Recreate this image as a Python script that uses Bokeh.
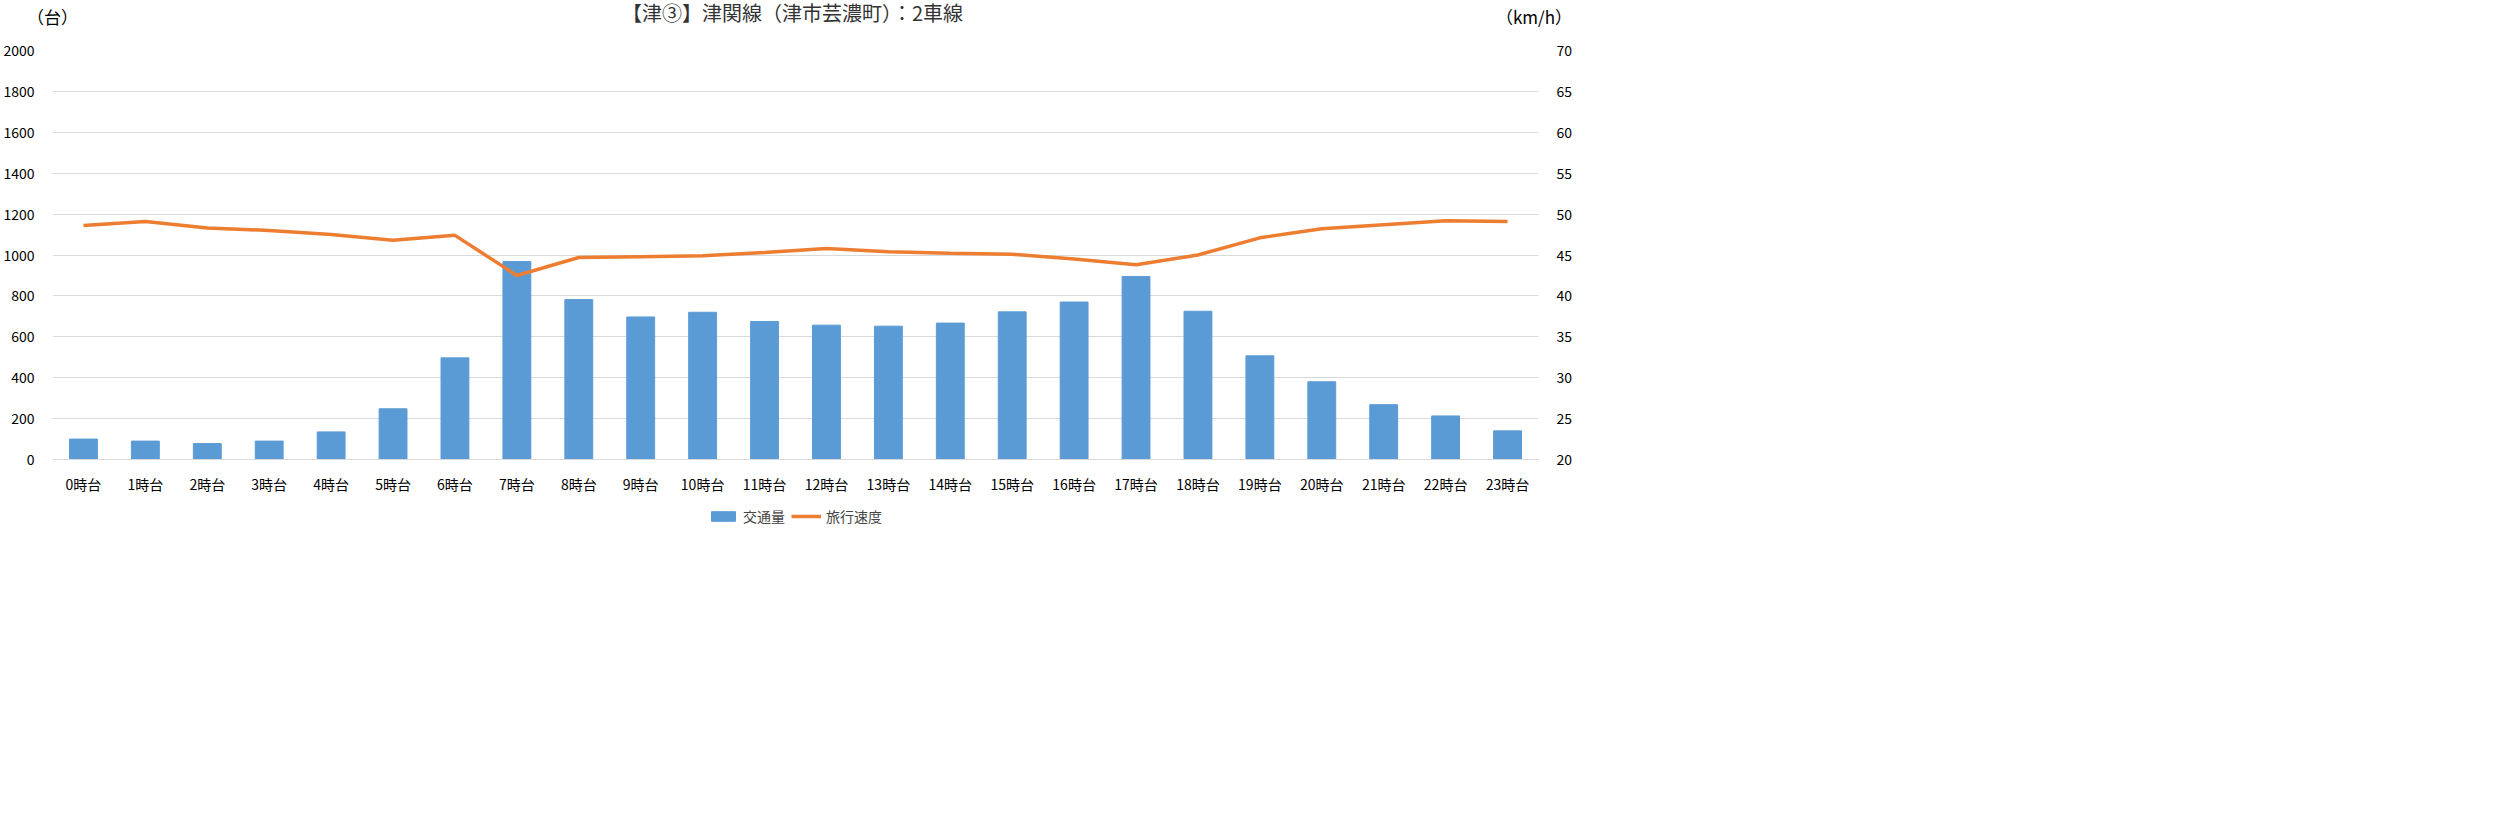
from bokeh.plotting import figure
from bokeh.models import Range1d, LinearAxis, Legend, LegendItem, FixedTicker, Div
from bokeh.layouts import column
from bokeh.embed import file_html
from bokeh.resources import INLINE

hours = [f"{h}時台" for h in range(24)]
traffic = [100, 90, 78, 90, 135, 248, 497, 968, 782, 697, 720, 675,
           657, 652, 667, 722, 770, 895, 725, 507, 380, 268, 213, 140]
speed = [48.6, 49.1, 48.3, 48.0, 47.5, 46.8, 47.4, 42.5, 44.7, 44.8, 44.9, 45.3,
         45.8, 45.4, 45.2, 45.1, 44.5, 43.8, 45.0, 47.1, 48.2, 48.7, 49.2, 49.1]

FONT = "Noto Sans CJK JP"
W = 1575

header = Div(width=W, height=26, text=(
    f'<div style="position:relative;width:{W}px;height:26px;font-family:\'{FONT}\';">'
    '<span style="position:absolute;left:22px;top:0px;font-size:17px;">（台）</span>'
    '<span style="position:absolute;left:0;right:0;top:-6px;text-align:center;font-size:20px;color:#333;">'
    '【津③】津関線（津市芸濃町）：2車線</span>'
    '<span style="position:absolute;right:8px;top:0px;font-size:17px;">（km/h）</span>'
    '</div>'))

p = figure(x_range=hours, y_range=Range1d(0, 2000), width=W, height=460,
           output_backend="svg", toolbar_location=None,
           min_border_left=20, min_border_right=15, min_border_top=14, min_border_bottom=5)
p.extra_y_ranges = {"speed": Range1d(20, 70)}

bars = p.vbar(x=hours, top=traffic, width=0.45, color="#5b9bd5")
line = p.line(x=hours, y=speed, y_range_name="speed", color="#ed7d31", line_width=3.5)

right = LinearAxis(y_range_name="speed", ticker=FixedTicker(ticks=list(range(20, 71, 5))))
p.add_layout(right, "right")
p.yaxis[0].ticker = FixedTicker(ticks=list(range(0, 2001, 200)))

for ax in p.yaxis + p.xaxis:
    ax.axis_line_color = None
    ax.major_tick_line_color = None
    ax.minor_tick_line_color = None
    ax.major_label_text_font = FONT
    ax.major_label_text_font_size = "14px"
    ax.major_label_text_color = "#000000"
    ax.major_label_standoff = 12
p.xaxis.axis_line_color = "#d9d9d9"
p.xaxis.major_label_standoff = 8

p.xgrid.grid_line_color = None
p.ygrid.grid_line_color = "#d9d9d9"
p.outline_line_color = None

# legend strip below the chart (swatch glyphs sit far outside the visible range)
lg = figure(width=W, height=40, output_backend="svg", toolbar_location=None,
            x_range=(0, 1), y_range=(0, 1), min_border=0)
lg.axis.visible = False
lg.grid.grid_line_color = None
lg.outline_line_color = None
lb = lg.vbar(x=[-100], top=[-99], bottom=[-100], width=0.1, color="#5b9bd5")
ll = lg.line(x=[-100, -99], y=[-100, -100], color="#ed7d31", line_width=3.5)
legend = Legend(items=[LegendItem(label="交通量", renderers=[lb]),
                       LegendItem(label="旅行速度", renderers=[ll])],
                orientation="horizontal", location="center",
                label_text_font=FONT, label_text_font_size="14px",
                border_line_color=None, background_fill_alpha=0,
                glyph_width=30, glyph_height=12, spacing=6, padding=2)
lg.add_layout(legend)

layout = column(header, p, lg, spacing=0)
open("out.html", "w").write(file_html(layout, INLINE))
